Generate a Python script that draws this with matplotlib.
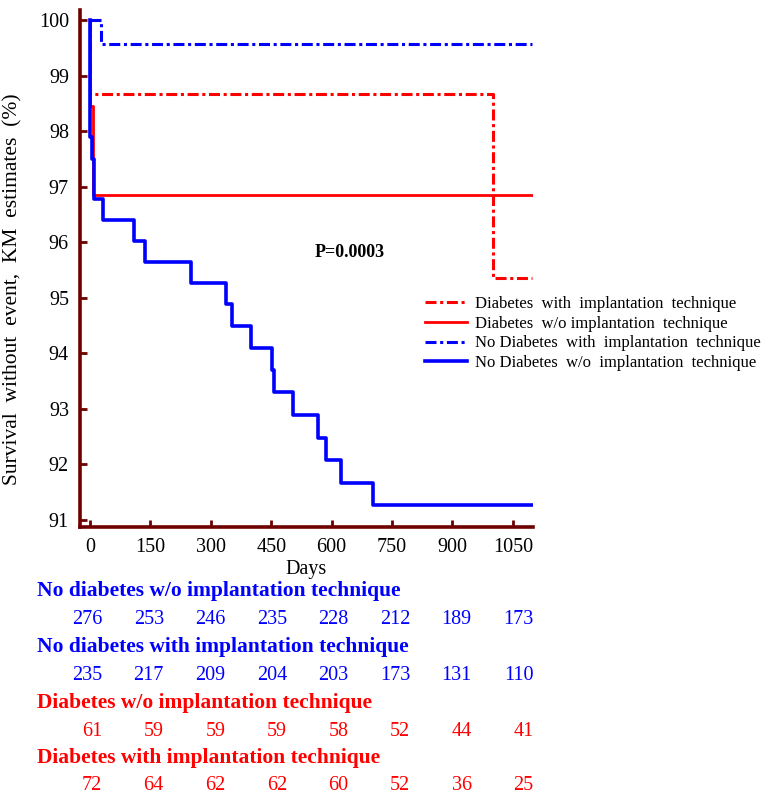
import matplotlib
matplotlib.use("Agg")
import matplotlib.pyplot as plt
import matplotlib.transforms as mtransforms

plt.rcParams.update({"font.family": ["Liberation Serif", "DejaVu Serif"],
                     "font.size": 14})

# Kaplan-Meier step data (days, % event-free)
nd_wo_t = [0, 1, 6, 11, 33, 108, 136, 250, 337, 353, 399, 451, 456, 504, 566, 585, 624, 703, 1097]
nd_wo_s = [100, 97.9, 97.5, 96.78, 96.4, 96.02, 95.64, 95.26, 94.88, 94.49, 94.1, 93.7, 93.3, 92.88, 92.48, 92.07, 91.66, 91.27, 91.27]
nd_with_t = [0, 27, 1097]
nd_with_s = [100, 99.57, 99.57]
d_wo_t = [0, 1, 8, 1097]
d_wo_s = [100, 98.45, 96.85, 96.85]
d_with_t = [0, 1, 1000, 1097]
d_with_s = [100, 98.66, 95.35, 95.35]

labels = ["Diabetes  with  implantation  technique",
          "Diabetes  w/o implantation  technique",
          "No Diabetes  with  implantation  technique",
          "No Diabetes  w/o  implantation  technique"]

# numbers at risk
risk_days = [0, 150, 300, 450, 600, 750, 900, 1050]
risk_titles = ["No diabetes w/o implantation technique",
               "No diabetes with implantation technique",
               "Diabetes w/o implantation technique",
               "Diabetes with implantation technique"]
risk_nd_wo = [276, 253, 246, 235, 228, 212, 189, 173]
risk_nd_with = [235, 217, 209, 204, 203, 173, 131, 110]
risk_d_wo = [61, 59, 59, 59, 58, 52, 44, 41]
risk_d_with = [72, 64, 62, 62, 60, 52, 36, 25]

BLUE, RED, SPINE = "#0000FF", "#FF0000", "#6E0000"
DASHDOT = (0, (3.6, 1.2, 1.0, 1.2))

fig = plt.figure(figsize=(7.71, 7.96), dpi=100)
ax = fig.add_axes([80 / 771, 1 - 527 / 796, 453 / 771, 517 / 796])

ax.step(d_with_t, d_with_s, where="post", color=RED, lw=2.2, ls=DASHDOT, label=labels[0])
ax.step(d_wo_t, d_wo_s, where="post", color=RED, lw=2.0, label=labels[1])
ax.step(nd_wo_t, nd_wo_s, where="post", color=BLUE, lw=2.6, label=labels[3], zorder=3)
ax.step(nd_with_t, nd_with_s, where="post", color=BLUE, lw=2.2, ls=DASHDOT, label=labels[2], zorder=4)

ax.set_xlim(-25, 1100)
ax.set_ylim(90.87, 100.18)
ax.set_xticks(risk_days)
ax.set_yticks(range(91, 101))
for s in ["top", "right"]:
    ax.spines[s].set_visible(False)
for s in ["left", "bottom"]:
    ax.spines[s].set_color(SPINE)
    ax.spines[s].set_linewidth(2.6)
ax.tick_params(direction="in", length=5, width=2, color=SPINE, labelsize=14.5, pad=8)
ax.set_xlabel("Days", fontsize=14.5, labelpad=2)
ax.set_ylabel("Survival  without  event,  KM  estimates  (%)", fontsize=15.5)
ax.yaxis.set_label_coords(-0.128, 0.46)

ax.text(645, 95.81, "P=0.0003", fontsize=13, fontweight="bold", ha="center", va="center")

h, l = ax.get_legend_handles_labels()
order = [0, 1, 3, 2]
ax.legend([h[i] for i in order], [l[i] for i in order], loc="upper left",
          bbox_to_anchor=(425 / 771, 1 - 296 / 796), bbox_transform=fig.transFigure,
          frameon=False, fontsize=12, handlelength=2.5, handletextpad=0.5,
          labelspacing=0.22, borderaxespad=0, borderpad=0)

# numbers-at-risk table under the plot
tr = mtransforms.blended_transform_factory(ax.transData, fig.transFigure)
rows = [(risk_titles[0], risk_nd_wo, BLUE, 591, 620),
        (risk_titles[1], risk_nd_with, BLUE, 647, 676),
        (risk_titles[2], risk_d_wo, RED, 703, 731),
        (risk_titles[3], risk_d_with, RED, 758, 786)]
for title, vals, col, ty, ny in rows:
    fig.text(37 / 771, 1 - ty / 796, title, color=col, fontsize=15.5, fontweight="bold",
             ha="left", va="center")
    for d, v in zip(risk_days, vals):
        ax.text(d + 30 + d * 0.02, 1 - ny / 796, str(v), transform=tr, color=col,
                fontsize=14.5, ha="right", va="center")

fig.savefig("out.png", dpi=100)
